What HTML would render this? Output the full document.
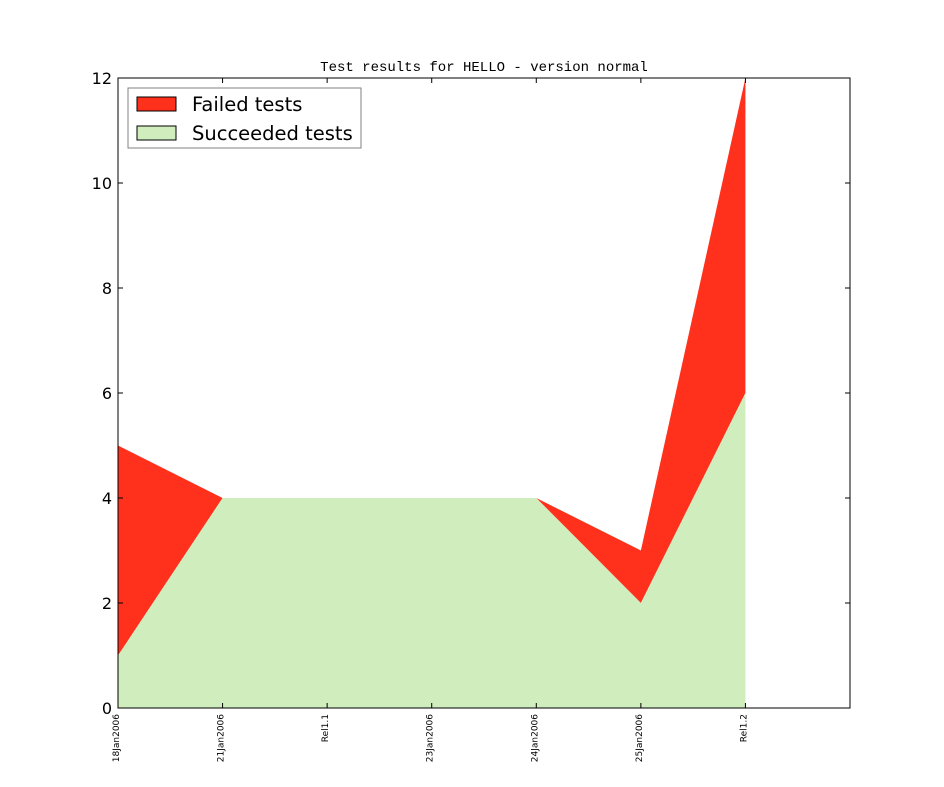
<!DOCTYPE html>
<html><head><meta charset="utf-8"><style>body{margin:0;background:#fff}svg{display:block}</style></head>
<body>
<svg id="chart" width="944" height="787" xmlns="http://www.w3.org/2000/svg">
<rect width="944" height="787" fill="#fff"/>
<text x="484" y="71" text-anchor="middle" font-family="Liberation Mono, monospace" font-size="14">Test results for HELLO - version normal</text>
<g id="plot"></g>
</svg>
<script>
const categories = ["18Jan2006","21Jan2006","Rel1.1","23Jan2006","24Jan2006","25Jan2006","Rel1.2"];
const totalTests = [5,4,4,4,4,3,12];
const succeededTests = [1,4,4,4,4,2,6];
const yTicks = [0,2,4,6,8,10,12];
const L=118,R=850,T=78,B=708;
const xs = i => L + i*(R-L)/7;
const ys = v => B - v*(B-T)/12;
const NS="http://www.w3.org/2000/svg";
const g=document.getElementById('plot');
function mk(t,a){const e=document.createElementNS(NS,t);for(const k in a)e.setAttribute(k,a[k]);g.appendChild(e);return e;}
let pf=categories.map((c,i)=>xs(i)+','+ys(totalTests[i])).join(' ');
for(let i=categories.length-1;i>=0;i--)pf+=' '+xs(i)+','+ys(succeededTests[i]);
const fail=mk('polygon',{points:pf,fill:'#ff311c'});


let ps=categories.map((c,i)=>xs(i)+','+ys(succeededTests[i])).join(' ');
ps+=' '+xs(categories.length-1)+','+ys(0)+' '+xs(0)+','+ys(0);
const succ=mk('polygon',{points:ps,fill:'#cfedbd'});


const frame=mk('rect',{x:L,y:T,width:R-L,height:B-T,fill:'none',stroke:'#000','stroke-width':1});


yTicks.forEach(v=>{
  const y=ys(v);
  mk('line',{x1:L,x2:L+5,y1:y,y2:y,stroke:'#000'});
  mk('line',{x1:R,x2:R-5,y1:y,y2:y,stroke:'#000'});
  const t=mk('text',{x:L-6,y:y+6,'text-anchor':'end','font-family':'DejaVu Sans, sans-serif','font-size':16});
  t.textContent=v;
  
  
});
categories.forEach((c,i)=>{
  const x=xs(i);
  mk('line',{x1:x,x2:x,y1:B,y2:B-5,stroke:'#000'});
  mk('line',{x1:x,x2:x,y1:T,y2:T+5,stroke:'#000'});
  const t=mk('text',{x:0,y:0,'text-anchor':'end','font-family':'DejaVu Sans, sans-serif','font-size':9,transform:`translate(${x+1},${B+6}) rotate(-90)`});
  t.textContent=c;
  
  
});
</script>
<svg style="position:absolute;left:0;top:0" width="944" height="787" xmlns="http://www.w3.org/2000/svg">
<rect x="128" y="88" width="233" height="60" fill="#fff" stroke="#808080"/>
<rect x="137" y="97" width="39" height="14" fill="#ff311c" stroke="#000"/>
<text x="192" y="111" font-family="DejaVu Sans, sans-serif" font-size="19.5">Failed tests</text>
<rect x="137" y="126" width="39" height="14" fill="#cfedbd" stroke="#000"/>
<text x="192" y="140" font-family="DejaVu Sans, sans-serif" font-size="19.5">Succeeded tests</text>
</svg>
</body></html>
